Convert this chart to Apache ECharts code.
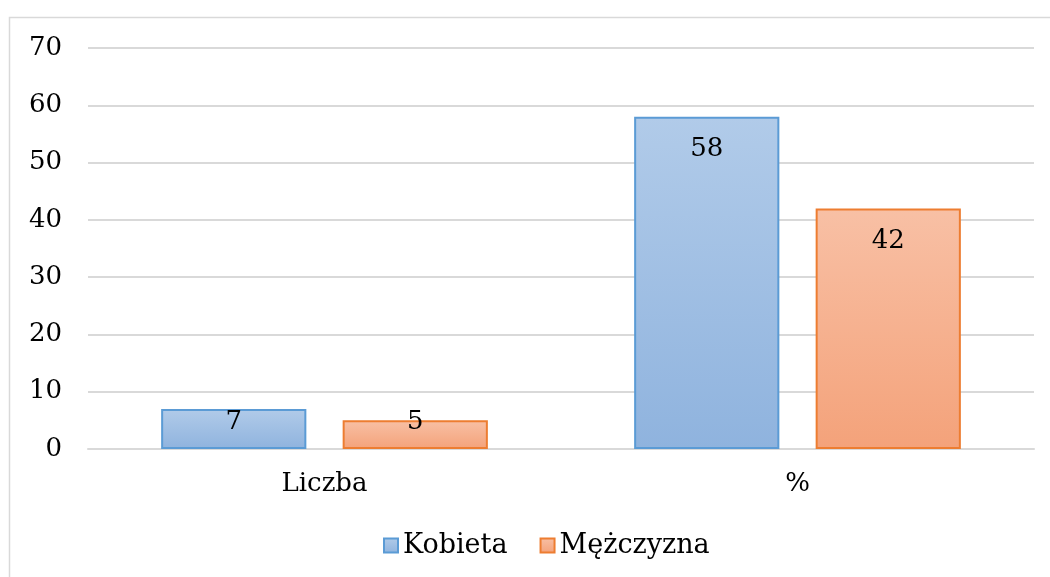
<!DOCTYPE html>
<html>
<head>
<meta charset="utf-8">
<script src="https://cdn.jsdelivr.net/npm/echarts@6/dist/echarts.min.js"></script>
<style>
  html, body { margin: 0; padding: 0; background: #fff; }
  #chart { width: 1050px; height: 577px; }
</style>
</head>
<body>
<div id="chart"></div>
<script>
var categories = ['Liczba', '%'];
var kobieta = [7, 58];
var mezczyzna = [5, 42];
var yTicks = { min: 0, max: 70, interval: 10 };

var chart = echarts.init(document.getElementById('chart'));
var font = '"DejaVu Serif", "Liberation Serif", serif';
var fs = 26;

function grad(top, bottom) {
  return new echarts.graphic.LinearGradient(0, 0, 0, 1, [
    { offset: 0, color: top },
    { offset: 1, color: bottom }
  ]);
}

// etykiety: dla niskich slupkow napis nad osia, dla wysokich wewnatrz u gory
function withLabels(values) {
  return values.map(function (v) {
    if (v < 15) {
      return { value: v, label: { position: 'insideBottom', distance: 14 } };
    }
    return { value: v, label: { position: 'insideTop', distance: 20 } };
  });
}

var option = {
  animation: false,
  textStyle: { fontFamily: font },
  // ramka wykresu
  graphic: [{
    type: 'rect',
    shape: { x: 9.5, y: 17.5, width: 1100, height: 700 },
    style: { fill: 'none', stroke: '#d9d9d9', lineWidth: 1.5 },
    silent: true
  }],
  grid: { left: 88, right: 16, top: 48, bottom: 128 },
  legend: {
    bottom: 13,
    left: 378,
    icon: 'rect',
    itemWidth: 14,
    itemHeight: 14,
    itemGap: 32,
    textStyle: { fontFamily: font, fontSize: 27, color: '#000' },
    data: ['Kobieta', 'Mężczyzna']
  },
  xAxis: {
    type: 'category',
    data: categories,
    axisTick: { show: false },
    axisLine: { lineStyle: { color: '#d9d9d9', width: 2 } },
    axisLabel: { fontFamily: font, fontSize: fs, color: '#000', margin: 22 }
  },
  yAxis: {
    type: 'value',
    min: yTicks.min,
    max: yTicks.max,
    interval: yTicks.interval,
    axisLine: { show: false },
    axisTick: { show: false },
    splitLine: { lineStyle: { color: '#d9d9d9', width: 2 } },
    axisLabel: { fontFamily: font, fontSize: fs, color: '#000', margin: 26 }
  },
  series: [{
    name: 'Kobieta',
    type: 'bar',
    data: withLabels(kobieta),
    barWidth: '30.7%',
    barGap: '25%',
    itemStyle: {
      color: grad('#b1cbe9', '#8fb3de'),
      borderColor: '#5b9bd5',
      borderWidth: 2
    },
    label: { show: true, fontFamily: font, fontSize: fs, color: '#000' }
  }, {
    name: 'Mężczyzna',
    type: 'bar',
    data: withLabels(mezczyzna),
    barWidth: '30.7%',
    itemStyle: {
      color: grad('#f8c0a5', '#f4a27a'),
      borderColor: '#ed7d31',
      borderWidth: 2
    },
    label: { show: true, fontFamily: font, fontSize: fs, color: '#000' }
  }]
};
chart.setOption(option);
</script>
</body>
</html>
